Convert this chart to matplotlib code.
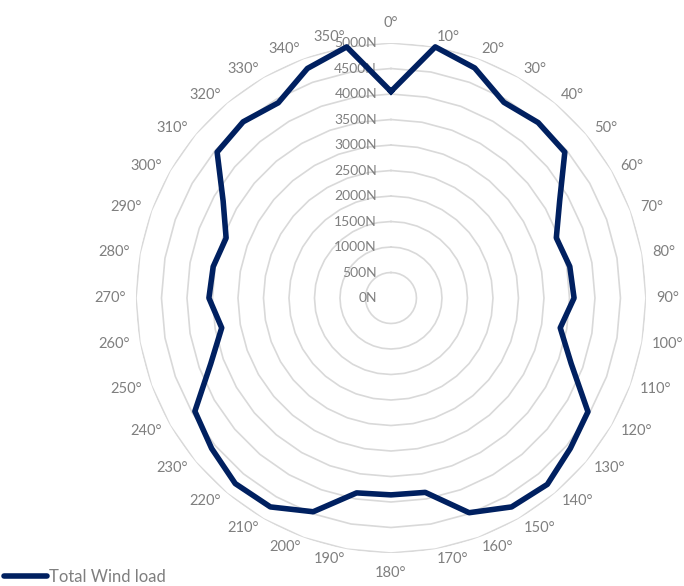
import numpy as np
import matplotlib.pyplot as plt
from matplotlib.lines import Line2D
from matplotlib.transforms import offset_copy

plt.rcParams['font.family'] = ['Lato', 'DejaVu Sans']

# directions in degrees and the wind load (N)
angles = list(range(0, 360, 10))
wind_load = [4050, 5000, 4800, 4430, 4490, 4450, 3820, 3450, 3560, 3590,
             3370, 3760, 4460, 4590, 4770, 4730, 4480, 3870, 3860, 3880,
             4460, 4730, 4750, 4590, 4440, 3760, 3370, 3570, 3540, 3440,
             3800, 4450, 4510, 4420, 4790, 5000]
radial_ticks = list(range(0, 5001, 500))
angle_labels = [f"{a}°" for a in angles]

grey_text = '#7f7f7f'
grid_col = '#d9d9d9'
navy = '#002060'

fig = plt.figure(figsize=(6.84, 5.86), dpi=100)
ax = fig.add_axes([0.1988, 0.0563, 0.7456, 0.8703], projection='polar')
ax.set_theta_zero_location('N')
ax.set_theta_direction(-1)
ax.set_ylim(0, 5000)
ax.grid(False)
ax.set_xticks([])
ax.set_yticks([])
ax.spines['polar'].set_visible(False)

theta = np.deg2rad(angles + [angles[0]])

# polygon gridlines like an Excel radar chart
for r in radial_ticks[1:]:
    ax.plot(theta, [r] * len(theta), color=grid_col, lw=1.2, zorder=1)

# radial axis labels, to the left of the vertical axis
trans = offset_copy(ax.transData, fig=fig, x=-14, y=0, units='dots')
for r in radial_ticks:
    ax.text(0, r, f"{r}N", transform=trans, ha='right', va='center',
            fontsize=10, color=grey_text, zorder=3)

# angle labels outside the outer ring (outer ring = 255 px)
px = 5000 / 255
for a, lab in zip(angles, angle_labels):
    if a == 0:
        ha, va, rr = 'center', 'bottom', 268
    elif a == 180:
        ha, va, rr = 'center', 'top', 268
    elif a < 180:
        ha, va, rr = 'left', 'center', 265
    else:
        ha, va, rr = 'right', 'center', 265
    ax.text(np.deg2rad(a), rr * px, lab, ha=ha, va=va,
            fontsize=10.5, color=grey_text, clip_on=False)

ax.plot(theta, wind_load + [wind_load[0]], color=navy, lw=4,
        solid_joinstyle='round', zorder=4, clip_on=False)

handle = Line2D([], [], color=navy, lw=4, solid_capstyle='round')
leg = fig.legend([handle], ['Total Wind load'], loc='center left',
                 bbox_to_anchor=(4 / 684, 9 / 586), frameon=False,
                 handlelength=2.6, handletextpad=0.1, borderpad=0,
                 borderaxespad=0, fontsize=12)
for t in leg.get_texts():
    t.set_color(grey_text)

fig.savefig('out.png', dpi=100)
